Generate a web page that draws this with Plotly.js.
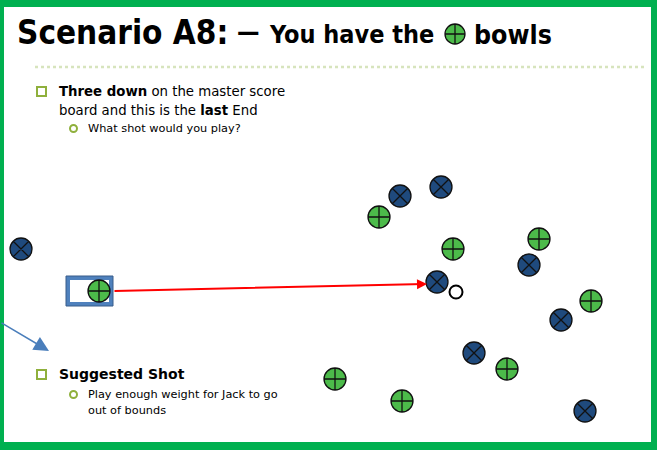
<!DOCTYPE html>
<html><head><meta charset="utf-8">
<script src="https://cdn.plot.ly/plotly-3.0.1.min.js"></script>
<style>html,body{margin:0;padding:0;background:#fff}</style>
</head><body><div id="chart" style="width:657px;height:450px"></div>
<script>
// Bowl positions on the slide (pixel-like units, y measured downward)
const ourBowlsX = [379, 453, 539, 591, 507, 335, 402];
const ourBowlsY = [217, 249, 239, 301, 369, 379, 401];
const theirBowlsX = [21, 400, 441, 529, 437, 561, 474, 585];
const theirBowlsY = [249, 196, 187, 265, 282, 320, 353, 411];
const matBowlX = [99];
const matBowlY = [291];
const jackX = [456];
const jackY = [292];
const shotFrom = [113, 291];
const shotTo = [427, 284];

const GREEN = '#4cba4a', BLUE = '#1f4a7d', OLIVE = '#8fb03c';
const bowl = (x, y, fill, sym, size) => ({
  type: 'scatter', mode: 'markers', x: x, y: y, hoverinfo: 'skip',
  marker: {symbol: sym, size: size || 22, color: fill, line: {color: '#111', width: 1.3}}
});
const traces = [
  bowl(ourBowlsX, ourBowlsY, GREEN, 'circle-cross'),
  bowl(theirBowlsX, theirBowlsY, BLUE, 'circle-x'),
  bowl(matBowlX, matBowlY, GREEN, 'circle-cross'),
  bowl([455], [34], GREEN, 'circle-cross', 20),
  {type: 'scatter', mode: 'markers', x: jackX, y: jackY, hoverinfo: 'skip',
   marker: {symbol: 'circle', size: 13, color: '#fff', line: {color: '#000', width: 2}}}
];

const body = 'DejaVu Sans, Verdana, sans-serif';
const head = (size) => ({family: 'DejaVu Sans Condensed, DejaVu Sans, sans-serif', size: size, color: '#000', weight: 'bold', stretch: 'condensed'});
const T = (x, y, text, size, extra) => Object.assign({
  x: x, y: y, xref: 'x', yref: 'y', text: text, showarrow: false,
  xanchor: 'left', yanchor: 'middle', font: {family: body, size: size, color: '#000'}
}, extra || {});
const annotations = [
  T(15, 32, 'Scenario A8:', 33, {font: head(33)}),
  T(235, 31, '—', 25, {font: head(25)}),
  T(267, 34, 'You have the', 25, {font: head(25)}),
  T(472, 34, 'bowls', 26.5, {font: head(26.5)}),
  T(57, 91, '<b>Three down</b> on the master score', 13.3),
  T(57, 110, 'board and this is the <b>last</b> End', 13.3),
  T(86, 128, 'What shot would you play?', 11.3),
  T(57, 374, '<b>Suggested Shot</b>', 14),
  T(86, 394, 'Play enough weight for Jack to go', 11.3),
  T(86, 410, 'out of bounds', 11.3),
  {x: shotTo[0], y: shotTo[1], ax: shotFrom[0], ay: shotFrom[1], xref: 'x', yref: 'y', axref: 'x', ayref: 'y',
   text: '', showarrow: true, arrowhead: 2, arrowsize: 1, arrowwidth: 2, arrowcolor: '#ff0000', standoff: 0},
  {x: 49, y: 351, ax: 0, ay: 322, xref: 'x', yref: 'y', axref: 'x', ayref: 'y',
   text: '', showarrow: true, arrowhead: 2, arrowsize: 2, arrowwidth: 1.5, arrowcolor: '#4a7ebb', standoff: 0}
];
const shapes = [
  // mat
  {type: 'rect', x0: 66, x1: 113, y0: 276, y1: 306, fillcolor: '#4f81bd', line: {color: '#385d8a', width: 1}, layer: 'below'},
  {type: 'rect', x0: 70, x1: 109, y0: 280, y1: 302, fillcolor: '#fff', line: {width: 0}, layer: 'below'},
  // dotted divider
  {type: 'line', x0: 35, x1: 646, y0: 67, y1: 67, line: {color: '#d7e4bd', width: 2.5, dash: 'dot'}, layer: 'below'},
  // bullets
  {type: 'rect', x0: 37, x1: 46, y0: 87, y1: 96, line: {color: OLIVE, width: 2}, fillcolor: 'rgba(0,0,0,0)'},
  {type: 'rect', x0: 37, x1: 46, y0: 370, y1: 379, line: {color: OLIVE, width: 2}, fillcolor: 'rgba(0,0,0,0)'},
  {type: 'circle', x0: 70, x1: 77, y0: 125, y1: 132, line: {color: OLIVE, width: 2}, fillcolor: 'rgba(0,0,0,0)'},
  {type: 'circle', x0: 70, x1: 77, y0: 391, y1: 398, line: {color: OLIVE, width: 2}, fillcolor: 'rgba(0,0,0,0)'},
  // green frame
  {type: 'rect', x0: 0, x1: 657, y0: 0, y1: 7, fillcolor: '#00b050', line: {width: 0}},
  {type: 'rect', x0: 0, x1: 657, y0: 442, y1: 450, fillcolor: '#00b050', line: {width: 0}},
  {type: 'rect', x0: 0, x1: 4, y0: 0, y1: 450, fillcolor: '#00b050', line: {width: 0}},
  {type: 'rect', x0: 651, x1: 657, y0: 0, y1: 450, fillcolor: '#00b050', line: {width: 0}}
];
const layout = {
  width: 657, height: 450, margin: {l: 0, r: 0, t: 0, b: 0},
  paper_bgcolor: '#fff', plot_bgcolor: '#fff', showlegend: false,
  xaxis: {range: [0, 657], visible: false, fixedrange: true},
  yaxis: {range: [450, 0], visible: false, fixedrange: true},
  annotations: annotations, shapes: shapes
};
Plotly.newPlot('chart', traces, layout, {staticPlot: true, displayModeBar: false});
</script></body></html>
